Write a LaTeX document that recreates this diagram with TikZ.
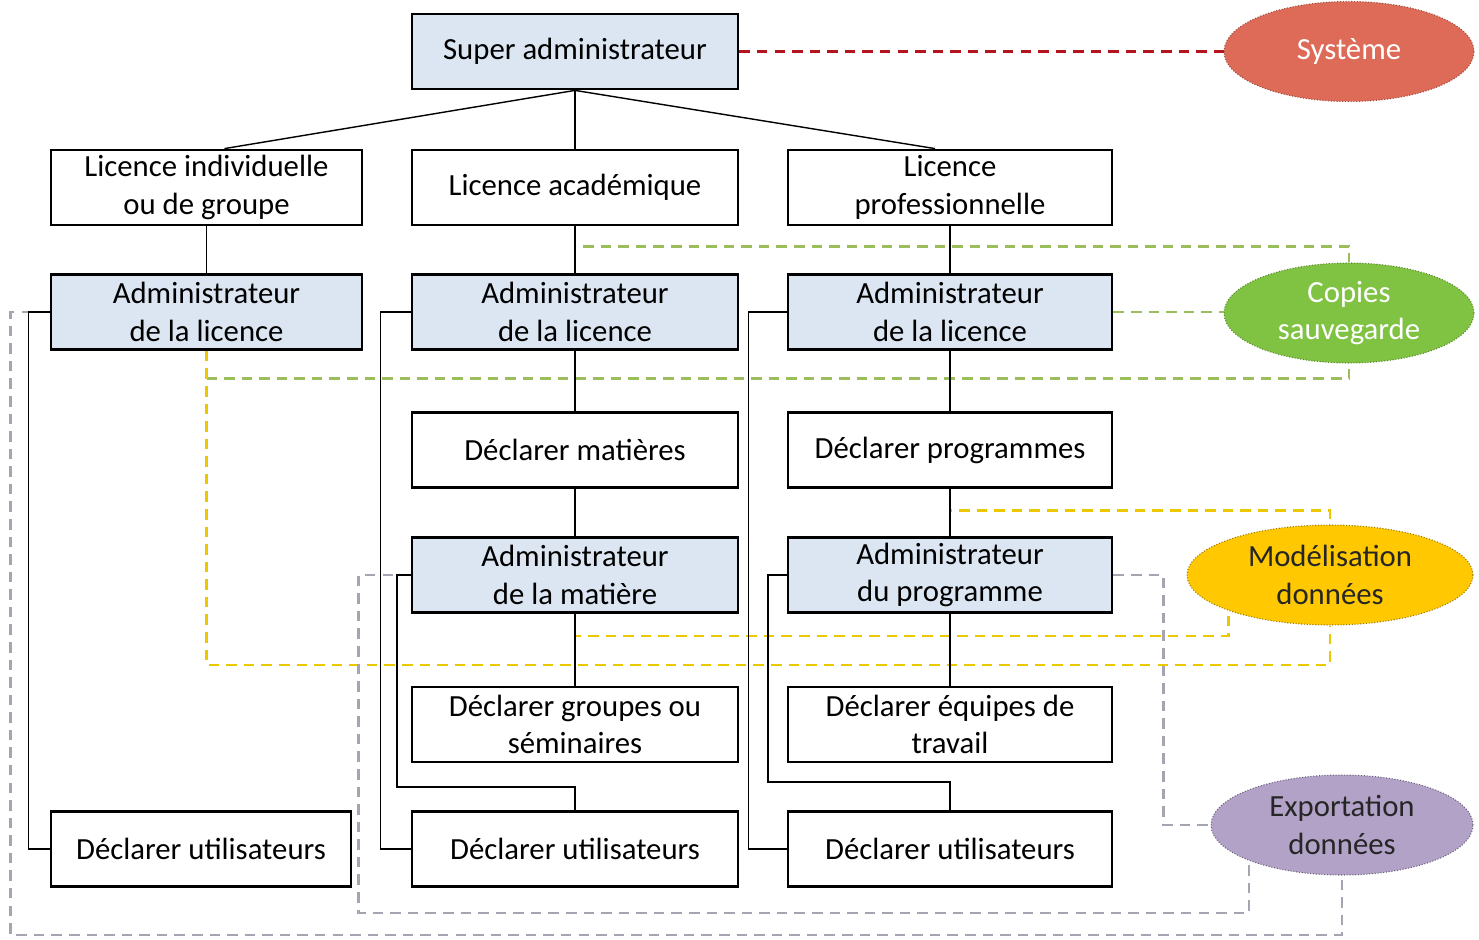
\documentclass[tikz,border=0pt]{standalone}
\usepackage{fontspec}
\setmainfont{Carlito}
\usetikzlibrary{shapes.geometric}
\definecolor{boxblue}{RGB}{220,230,242}
\definecolor{sysred}{RGB}{221,107,88}
\definecolor{copgreen}{RGB}{128,194,66}
\definecolor{modgold}{RGB}{255,200,0}
\definecolor{explav}{RGB}{178,162,199}
\definecolor{dred}{RGB}{180,20,30}
\definecolor{dgreen}{RGB}{155,190,90}
\definecolor{dyellow}{RGB}{235,200,0}
\definecolor{dgrey}{RGB}{165,165,178}
\begin{document}
\begin{tikzpicture}[x=0.02cm,y=-0.02cm,
  box/.style={draw=black, line width=1.6pt, minimum height=1.5cm, inner sep=0pt,
    align=center, font=\fontsize{17.5}{21.5}\selectfont},
  adm/.style={box, fill=boxblue},
  oval/.style={ellipse, inner sep=0pt, align=center, minimum height=2cm,
    line width=0.6pt, densely dotted, font=\fontsize{17.5}{21.5}\selectfont},
  link/.style={line width=0.8pt, black},
  dsh/.style={line width=1.6pt, dash pattern=on 6pt off 4pt}]
\useasboundingbox (0,0) rectangle (1479,939);
% boxes
\node[adm, minimum width=6.52cm] (sa) at (575,51.5) {Super administrateur};
\node[box, minimum width=6.22cm] (li) at (206.5,187.5) {Licence individuelle\\ou de groupe};
\node[box, minimum width=6.52cm] (la) at (575,187.5) {Licence académique};
\node[box, minimum width=6.48cm] (lp) at (950,187.5) {Licence\\professionnelle};
\node[adm, minimum width=6.22cm] (a1) at (206.5,312) {Administrateur\\de la licence};
\node[adm, minimum width=6.52cm] (a2) at (575,312) {Administrateur\\de la licence};
\node[adm, minimum width=6.48cm] (a3) at (950,312) {Administrateur\\de la licence};
\node[box, minimum width=6.52cm] (dm) at (575,450) {Déclarer matières};
\node[box, minimum width=6.48cm] (dp) at (950,450) {Déclarer programmes};
\node[adm, minimum width=6.52cm] (am) at (575,575) {Administrateur\\de la matière};
\node[adm, minimum width=6.48cm] (ap) at (950,575) {Administrateur\\du programme};
\node[box, minimum width=6.52cm] (dg) at (575,724.5) {Déclarer groupes ou\\séminaires};
\node[box, minimum width=6.48cm] (de) at (950,724.5) {Déclarer équipes de\\travail};
\node[box, minimum width=6.0cm] (du1) at (201,849) {Déclarer utilisateurs};
\node[box, minimum width=6.52cm] (du2) at (575,849) {Déclarer utilisateurs};
\node[box, minimum width=6.48cm] (du3) at (950,849) {Déclarer utilisateurs};
% ellipses
\node[oval, fill=sysred, draw=sysred!70!black, text=white, minimum width=5cm] (sys) at (1349,51.5) {Système};
\node[oval, fill=copgreen, draw=copgreen!70!black, text=white, minimum width=5cm] (cop) at (1349,313) {Copies\\sauvegarde};
\node[oval, fill=modgold, draw=modgold!60!black, text=black!85, minimum width=5.72cm] (mod) at (1330,575) {Modélisation\\données};
\node[oval, fill=explav, draw=explav!60!black, text=black!85, minimum width=5.24cm] (exp) at (1342,825) {Exportation\\données};
% dashed links
\draw[dsh, dred] (sa.east) -- (sa.east -| sys.west);
\draw[dsh, dgreen] (a2.north) -- ++(0,-27) -| (cop.north);
\draw[dsh, dgreen] (a3.east) -- (a3.east -| cop.west);
\draw[dsh, dgreen] ([yshift=-0.56cm]a1.south) -| (cop.south);
\draw[dsh, dyellow] (a1.south) -- ++(0,314) -| (mod.south);
\draw[dsh, dyellow] (am.south) -- ++(0,22) -| (mod.south west);
\draw[dsh, dyellow] (ap.north) -- ++(0,-26) -| (mod.north);
\draw[dsh, dgrey] (a1.west) -- ++(-39,0) -- ++(0,623) -| (exp.south);
\draw[dsh, dgrey] (am.west) -- ++(-52,0) -- ++(0,338) -| (exp.south west);
\draw[dsh, dgrey] (ap.east) -- ++(50,0) |- (exp.west);
% solid links
\draw[link] (sa.south) -- ([xshift=0.36cm]li.north);
\draw[link] (sa.south) -- (la.north);
\draw[link] (sa.south) -- ([xshift=-0.3cm]lp.north);
\draw[link] (li.south) -- (a1.north);
\draw[link] (la.south) -- (a2.north);
\draw[link] (lp.south) -- (a3.north);
\draw[link] (a2.south) -- (dm.north);
\draw[link] (dm.south) -- (am.north);
\draw[link] (am.south) -- (dg.north);
\draw[link] (a3.south) -- (dp.north);
\draw[link] (dp.south) -- (ap.north);
\draw[link] (ap.south) -- (de.north);
\draw[link] (a1.west) -- ++(-21,0) |- (du1.west);
\draw[link] (a2.west) -- ++(-30,0) |- (du2.west);
\draw[link] (a3.west) -- ++(-38,0) |- (du3.west);
\draw[link] (am.west) -| (397,787) -| (du2.north);
\draw[link] (ap.west) -| (768,782) -| (du3.north);
\end{tikzpicture}
\end{document}
